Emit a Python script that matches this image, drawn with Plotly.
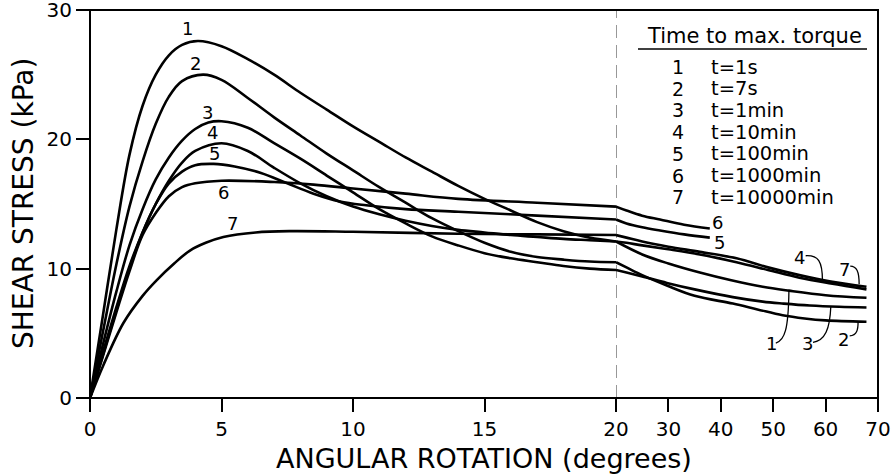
import plotly.graph_objects as go

# angular rotation (degrees) and shear stress (kPa)
rot_1 = [0, 0.5, 1, 1.5, 2, 2.5, 3, 3.5, 4.1, 5, 6, 7, 8, 9, 10, 11, 12, 13, 14, 15, 16, 17, 18, 19, 20,
         25, 30, 36, 42, 48, 53, 60, 67.8]
tau_1 = [0, 6.5, 13, 18.8, 22.6, 25.0, 26.5, 27.3, 27.6, 27.2, 26.2, 25.0, 23.6, 22.3, 21.0, 19.8, 18.6, 17.5, 16.4,
         15.4, 14.5, 13.6, 12.9, 12.4, 12.1,
         11.1, 10.4, 9.7, 9.1, 8.6, 8.3, 7.95, 7.75]

rot_2 = [0, 0.5, 1, 1.5, 2, 2.5, 3, 3.5, 4.3, 5, 6, 7, 8, 9, 10, 11, 12, 13, 14, 15, 16, 17, 18, 19, 20,
         22, 25, 29.7, 35, 42.3, 47, 51.8, 56, 60, 67.8]
tau_2 = [0, 5.2, 10.3, 14.8, 18.3, 21.2, 23.3, 24.5, 25.0, 24.6, 23.2, 21.7, 20.3, 18.9, 17.6, 16.3, 15.1, 13.9, 12.9,
         12.0, 11.3, 10.9, 10.7, 10.55, 10.5,
         10.1, 9.5, 8.7, 7.9, 7.3, 6.85, 6.4, 6.15, 6.0, 5.9]

rot_3 = [0, 0.5, 1, 1.5, 2, 2.5, 3, 3.5, 4, 4.5, 5, 6, 7, 8, 9, 10, 11, 12, 13, 14, 15, 16, 17, 18, 19, 20,
         22, 25, 29.7, 35, 42.3, 48, 52, 57, 62.6, 67.8]
tau_3 = [0, 4.2, 8.2, 11.8, 14.6, 16.9, 18.6, 19.9, 20.8, 21.3, 21.4, 20.9, 19.7, 18.5, 17.2, 15.9, 14.6, 13.5, 12.5,
         11.8, 11.2, 10.8, 10.5, 10.2, 10.0, 9.9,
         9.7, 9.4, 8.9, 8.4, 7.8, 7.45, 7.3, 7.15, 7.05, 7.0]

rot_4 = [0, 0.5, 1, 1.5, 2, 2.5, 3, 3.5, 4, 5, 6, 7, 8, 9, 10, 11, 12, 13, 14, 15, 16, 17, 18, 19, 20,
         22, 25, 30, 36, 43, 49, 55, 61, 67.8]
tau_4 = [0, 3.6, 7.0, 10.2, 12.8, 15.0, 16.8, 18.2, 19.1, 19.7, 19.1, 17.8, 16.6, 15.6, 14.8, 14.2, 13.7, 13.3, 13.0,
         12.8, 12.6, 12.45, 12.3, 12.2, 12.1,
         12.0, 11.8, 11.5, 11.1, 10.5, 9.9, 9.3, 8.85, 8.4]

rot_5 = [0, 0.5, 1, 1.5, 2, 2.5, 3, 3.5, 4, 4.7, 5.5, 6.5, 7.5, 8.5, 9.5, 10.5, 12, 14, 17, 20,
         22, 25, 28.4, 33, 37.9]
tau_5 = [0, 3.4, 6.8, 10.0, 12.8, 15.0, 16.6, 17.5, 18.0, 18.1, 17.9, 17.4, 16.6, 15.8, 15.2, 14.9, 14.6, 14.4, 14.1, 13.8,
         13.5, 13.2, 12.95, 12.65, 12.4]

rot_6 = [0, 0.5, 1, 1.5, 2, 2.5, 3, 3.5, 4, 5, 7, 8.5, 10, 12, 14, 17, 20,
         22, 25, 28.4, 33, 37.9]
tau_6 = [0, 3.3, 6.6, 9.8, 12.6, 14.3, 15.6, 16.3, 16.6, 16.8, 16.7, 16.5, 16.2, 15.8, 15.4, 15.1, 14.8,
         14.5, 14.1, 13.8, 13.4, 13.1]

rot_7 = [0, 0.5, 1.27, 2, 2.53, 3.2, 3.8, 4.4, 5.07, 6.3, 7.6, 10, 14, 17, 20,
         22, 25, 30, 36, 43, 49, 55, 61, 67.8]
tau_7 = [0, 2.5, 5.8, 7.9, 9.1, 10.4, 11.4, 12.0, 12.45, 12.8, 12.9, 12.85, 12.7, 12.65, 12.6,
         12.4, 12.1, 11.7, 11.3, 10.8, 10.1, 9.5, 9.0, 8.6]

curve_ids = ["1", "2", "3", "4", "5", "6", "7"]
times = ["t=1s", "t=7s", "t=1min", "t=10min", "t=100min", "t=1000min", "t=10000min"]

# curve number labels: near the peaks (left axis) and at the tails (right axis)
peak_lbl_x = [3.7, 4.0, 4.45, 4.64, 4.75, 5.06, 5.4]
peak_lbl_y = [28.6, 25.9, 22.1, 20.5, 18.9, 15.9, 13.5]
tail_lbl = ["6", "5", "4", "7", "1", "3", "2"]
tail_lbl_x = [39.4, 39.8, 55.0, 63.7, 49.6, 56.5, 63.5]
tail_lbl_y = [13.6, 12.0, 10.87, 9.9, 4.2, 4.2, 4.55]

# little hooked leaders from tail labels to their curves (x2 data coords)
leaders = [
    [(56.2, 11.0), (58.6, 11.05), (59.4, 10.6), (59.4, 9.05)],
    [(64.7, 10.2), (65.9, 10.2), (66.4, 9.8), (66.4, 8.8)],
    [(50.5, 4.25), (52.2, 4.45), (52.9, 5.3), (53.0, 8.3)],
    [(57.6, 4.3), (59.9, 4.45), (60.8, 5.3), (61.0, 7.1)],
    [(64.6, 4.8), (66.0, 4.85), (66.2, 5.3), (66.2, 5.9)],
]

BREAK = 20
X_SPLIT = 526 / 788   # 0-20 deg uses 2/3 of the width, 20-70 deg the rest
FONT = "DejaVu Sans"

fig = go.Figure()

all_rot = [rot_1, rot_2, rot_3, rot_4, rot_5, rot_6, rot_7]
all_tau = [tau_1, tau_2, tau_3, tau_4, tau_5, tau_6, tau_7]
for rot, tau in zip(all_rot, all_tau):
    left = [(x, y) for x, y in zip(rot, tau) if x <= BREAK]
    right = [(x, y) for x, y in zip(rot, tau) if x >= BREAK]
    for pts, xa in [(left, "x"), (right, "x2")]:
        fig.add_trace(go.Scatter(
            x=[p[0] for p in pts], y=[p[1] for p in pts], xaxis=xa, yaxis="y",
            mode="lines", line=dict(color="black", width=2.6, shape="spline", smoothing=1.0),
            showlegend=False, hoverinfo="skip"))


def txt(text, x, y, xref, yref, size, **kw):
    d = dict(x=x, y=y, xref=xref, yref=yref, text=text, showarrow=False,
             xanchor="center", yanchor="middle",
             font=dict(family=FONT, size=size, color="black"))
    d.update(kw)
    return d


annots = []
for t, x, y in zip(curve_ids, peak_lbl_x, peak_lbl_y):
    annots.append(txt(t, x, y, "x", "y", 18))
for t, x, y in zip(tail_lbl, tail_lbl_x, tail_lbl_y):
    annots.append(txt(t, x, y, "x2", "y", 18))

# legend table (pixel positions turned into paper fractions)
def px(v):
    return (v - 90) / 788


def py(v):
    return (398 - v) / 388


annots.append(txt("Time to max. torque", px(754), py(36), "paper", "paper", 21))
for i, (cid, t) in enumerate(zip(curve_ids, times)):
    yy = py(67 + 21.7 * i)
    annots.append(txt(cid, px(678), yy, "paper", "paper", 19))
    annots.append(txt(t, px(709), yy, "paper", "paper", 19.5, xanchor="left"))

# axis titles
annots.append(txt("ANGULAR ROTATION (degrees)", 0.5, py(459), "paper", "paper", 27))
annots.append(txt("SHEAR STRESS (kPa)", px(23), 0.5, "paper", "paper", 28, textangle=-90))

shapes = [
    dict(type="rect", xref="paper", yref="paper", x0=0, x1=1, y0=0, y1=1,
         line=dict(color="black", width=2)),
    dict(type="line", xref="x2", yref="y", x0=BREAK, x1=BREAK, y0=0, y1=30, layer="below",
         line=dict(color="#777777", width=1.5, dash="13px,7px")),
    dict(type="line", xref="paper", yref="paper", x0=px(638), x1=px(867),
         y0=py(49), y1=py(49), line=dict(color="black", width=1.5)),
]
for p in leaders:
    path = "M {},{} C {},{} {},{} {},{}".format(*[v for pt in p for v in pt])
    shapes.append(dict(type="path", xref="x2", yref="y", path=path,
                       line=dict(color="black", width=1.3)))

tick_font = dict(family=FONT, size=20, color="black")
axis_common = dict(showgrid=False, zeroline=False, showline=False, ticks="outside",
                   ticklen=13, tickwidth=1.5, tickcolor="black", tickfont=tick_font,
                   ticklabeloverflow="allow", automargin=False)

fig.update_layout(
    width=895, height=476,
    margin=dict(l=90, r=17, t=10, b=78),
    paper_bgcolor="white", plot_bgcolor="white",
    xaxis=dict(domain=[0, X_SPLIT], range=[0, BREAK], tickvals=[0, 5, 10, 15],
               anchor="y", **axis_common),
    xaxis2=dict(domain=[X_SPLIT, 1], range=[BREAK, 70], tickvals=[20, 30, 40, 50, 60, 70],
                anchor="y", **axis_common),
    yaxis=dict(range=[0, 30], tickvals=[0, 10, 20, 30], anchor="x", **axis_common),
    annotations=annots,
    shapes=shapes,
)

# page body margin would shift the figure by 8px
fig.write_html("out.html", config={"displayModeBar": False},
               post_script="document.body.style.margin = '0';")
